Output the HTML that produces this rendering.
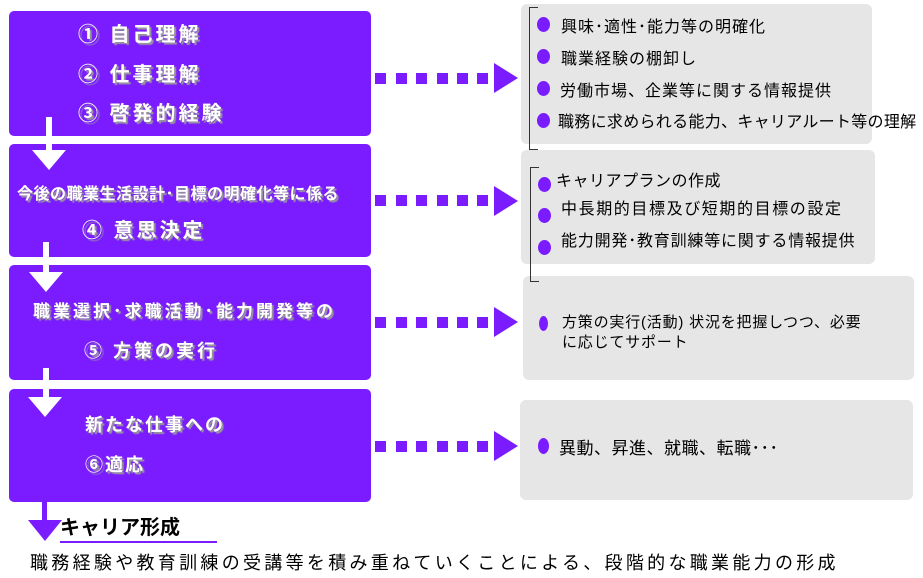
<!DOCTYPE html>
<html><head><meta charset="utf-8"><style>
body{margin:0;width:923px;height:578px;background:#fff;position:relative;overflow:hidden;font-family:"Liberation Sans","Noto Sans CJK JP",sans-serif}
.p{position:absolute;background:#7a1cff;border-radius:5px;left:9px;width:362px}
.g{position:absolute;background:#e6e6e6;border-radius:6px}
.t{position:absolute;color:#fff;font-weight:bold;white-space:nowrap;text-shadow:2px 2px 1px #999}
.k{position:absolute;color:#000;white-space:nowrap;font-size:16px}
.dot{position:absolute;width:13px;height:15px;border-radius:50%;background:#7a1cff}
.sq{position:absolute;width:11px;height:11px;background:#7a1cff}
.ah{position:absolute;width:0;height:0;border-top:15px solid transparent;border-bottom:15px solid transparent;border-left:24px solid #7a1cff}
.br{position:absolute;border:1.5px solid #333;border-right:none;width:8px}
.ws{position:absolute;background:#fff;width:6px}
.wa{position:absolute;width:0;height:0;border-left:17px solid transparent;border-right:17px solid transparent;border-top:20px solid #fff}
</style></head><body>
<div class="p" style="top:11px;height:125px"></div>
<div class="p" style="top:144px;height:113px"></div>
<div class="p" style="top:265px;height:115px"></div>
<div class="p" style="top:389px;height:113px"></div>

<div class="t" style="left:78px;top:18px;font-size:20px;letter-spacing:3px">① 自己理解</div>
<div class="t" style="left:78px;top:58px;font-size:20px;letter-spacing:3px">② 仕事理解</div>
<div class="t" style="left:78px;top:97px;font-size:20px;letter-spacing:3px">③ 啓発的経験</div>
<div class="t" style="left:17px;top:180px;font-size:16px;letter-spacing:0.5px">今後の職業生活設計･目標の明確化等に係る</div>
<div class="t" style="left:82px;top:214px;font-size:20px;letter-spacing:3px">④ 意思決定</div>
<div class="t" style="left:33px;top:297px;font-size:17px;letter-spacing:3px">職業選択･求職活動･能力開発等の</div>
<div class="t" style="left:84px;top:337px;font-size:18px;letter-spacing:3px">⑤ 方策の実行</div>
<div class="t" style="left:85px;top:411px;font-size:18px;letter-spacing:2px">新たな仕事への</div>
<div class="t" style="left:85px;top:451px;font-size:18px;letter-spacing:2px">⑥適応</div>

<div class="ws" style="left:46px;top:117px;height:34px"></div><div class="wa" style="left:32px;top:150px"></div>
<div class="ws" style="left:43px;top:242px;height:32px"></div><div class="wa" style="left:29px;top:272px"></div>
<div class="ws" style="left:43px;top:368px;height:30px"></div><div class="wa" style="left:28px;top:397px"></div>
<div style="position:absolute;left:42px;top:497px;width:5px;height:28px;background:#7a1cff"></div>
<div style="position:absolute;left:28px;top:520px;border-left:17px solid transparent;border-right:17px solid transparent;border-top:21px solid #7a1cff"></div>

<div class="g" style="left:521px;top:4px;width:351px;height:140px"></div>
<div class="g" style="left:521px;top:150px;width:354px;height:114px"></div>
<div class="g" style="left:523px;top:276px;width:391px;height:104px"></div>
<div class="g" style="left:520px;top:400px;width:393px;height:100px"></div>

<div class="br" style="left:529px;top:7px;height:141px"></div>
<div class="br" style="left:530px;top:167px;height:113px"></div>

<div class="dot" style="left:537px;top:17px"></div><div class="k" style="left:561px;top:13px;letter-spacing:1px">興味･適性･能力等の明確化</div>
<div class="dot" style="left:537px;top:49px"></div><div class="k" style="left:561px;top:45px;letter-spacing:1px">職業経験の棚卸し</div>
<div class="dot" style="left:537px;top:81px"></div><div class="k" style="left:560px;top:77px;letter-spacing:1px">労働市場、企業等に関する情報提供</div>
<div class="dot" style="left:537px;top:113px"></div><div class="k" style="left:558px;top:108px;letter-spacing:0.3px">職務に求められる能力、キャリアルート等の理解</div>
<div class="dot" style="left:538px;top:177px"></div><div class="k" style="left:556px;top:167px;letter-spacing:0.5px">キャリアプランの作成</div>
<div class="dot" style="left:538px;top:208px"></div><div class="k" style="left:561px;top:195px;letter-spacing:1.6px">中長期的目標及び短期的目標の設定</div>
<div class="dot" style="left:538px;top:240px"></div><div class="k" style="left:561px;top:227px;letter-spacing:0.8px">能力開発･教育訓練等に関する情報提供</div>
<div class="dot" style="left:539px;top:316px;width:9px"></div><div class="k" style="left:562px;top:311px;font-size:15px;letter-spacing:0.8px">方策の実行(活動) 状況を把握しつつ、必要</div>
<div class="k" style="left:562px;top:331px;font-size:15px;letter-spacing:0.8px">に応じてサポート</div>
<div class="dot" style="left:538px;top:438px;width:11px;height:16px"></div><div class="k" style="left:559px;top:434px;font-size:17px;letter-spacing:0.5px">異動、昇進、就職、転職･･･</div>

<div class="sq" style="left:375px;top:73px"></div><div class="sq" style="left:396px;top:73px"></div><div class="sq" style="left:416px;top:73px"></div><div class="sq" style="left:437px;top:73px"></div><div class="sq" style="left:457px;top:73px"></div><div class="sq" style="left:477px;top:73px"></div><div class="ah" style="left:494px;top:63px"></div>
<div class="sq" style="left:375px;top:195px"></div><div class="sq" style="left:396px;top:195px"></div><div class="sq" style="left:416px;top:195px"></div><div class="sq" style="left:437px;top:195px"></div><div class="sq" style="left:457px;top:195px"></div><div class="sq" style="left:477px;top:195px"></div><div class="ah" style="left:494px;top:186px"></div>
<div class="sq" style="left:375px;top:317px"></div><div class="sq" style="left:396px;top:317px"></div><div class="sq" style="left:416px;top:317px"></div><div class="sq" style="left:437px;top:317px"></div><div class="sq" style="left:457px;top:317px"></div><div class="sq" style="left:477px;top:317px"></div><div class="ah" style="left:494px;top:307px"></div>
<div class="sq" style="left:375px;top:441px"></div><div class="sq" style="left:396px;top:441px"></div><div class="sq" style="left:416px;top:441px"></div><div class="sq" style="left:437px;top:441px"></div><div class="sq" style="left:457px;top:441px"></div><div class="sq" style="left:477px;top:441px"></div><div class="ah" style="left:494px;top:431px"></div>

<div class="k" style="left:60px;top:511px;font-size:20px;font-weight:bold">キャリア形成</div>
<div style="position:absolute;left:60px;top:541px;width:157px;height:2px;background:#7a1cff"></div>
<div class="k" style="left:30px;top:549px;font-size:18px;letter-spacing:3.3px">職務経験や教育訓練の受講等を積み重ねていくことによる、段階的な職業能力の形成</div>
</body></html>
